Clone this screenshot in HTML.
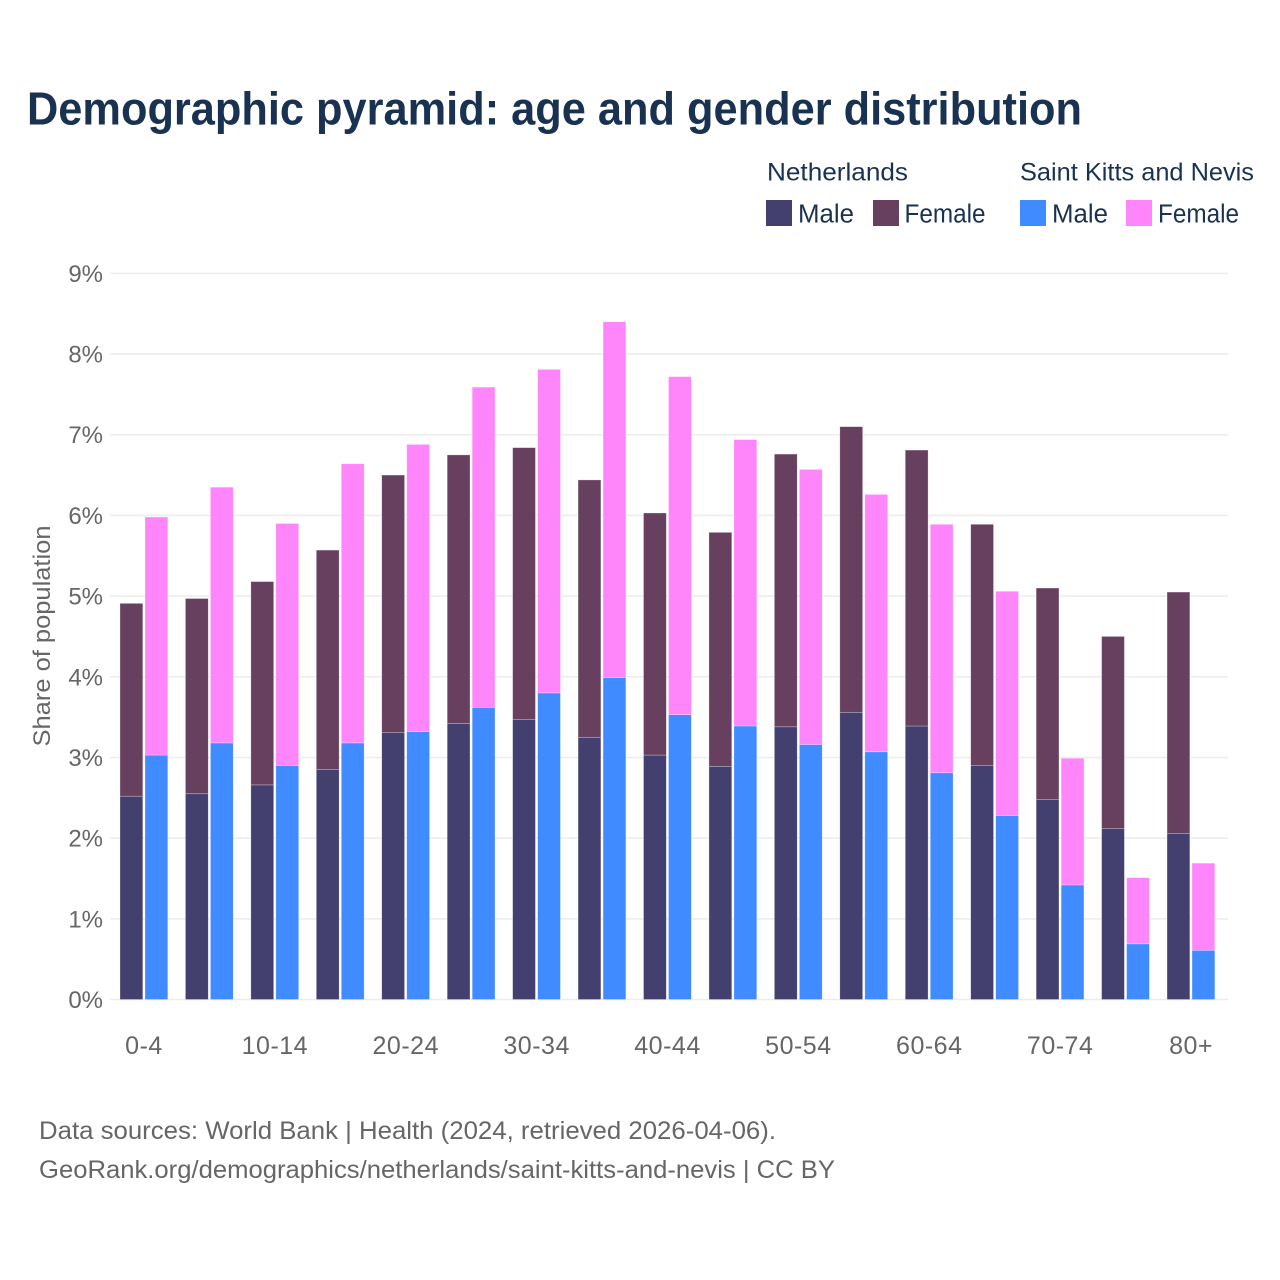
<!DOCTYPE html>
<html lang="en">
<head>
<meta charset="utf-8">
<title>Demographic pyramid: age and gender distribution</title>
<style>
html,body{margin:0;padding:0;background:#fff;width:1280px;height:1280px;overflow:hidden}
svg{display:block}
text{font-family:"Liberation Sans",sans-serif}
</style>
</head>
<body>
<svg id="chart" width="1280" height="1280" viewBox="0 0 1280 1280" xmlns="http://www.w3.org/2000/svg">
  <rect width="1280" height="1280" fill="#ffffff"/>
  <text x="27" y="124.5" font-size="46.5" font-weight="700" fill="#1a3251" textLength="1055" lengthAdjust="spacingAndGlyphs">Demographic pyramid: age and gender distribution</text>

  <g>
    <text x="767" y="180.5" font-size="25" fill="#1a3251" textLength="141" lengthAdjust="spacingAndGlyphs">Netherlands</text>
    <text x="1020" y="180.5" font-size="25" fill="#1a3251" textLength="234" lengthAdjust="spacingAndGlyphs">Saint Kitts and Nevis</text>
    <rect x="766" y="200" width="26" height="26" fill="#433f6f"/>
    <text x="798" y="222.5" font-size="25.5" fill="#1a3251" textLength="56" lengthAdjust="spacingAndGlyphs">Male</text>
    <rect x="873" y="200" width="26" height="26" fill="#67405f"/>
    <text x="904.5" y="222.5" font-size="25.5" fill="#1a3251" textLength="81" lengthAdjust="spacingAndGlyphs">Female</text>
    <rect x="1020" y="200" width="26" height="26" fill="#3f8bff"/>
    <text x="1052" y="222.5" font-size="25.5" fill="#1a3251" textLength="56" lengthAdjust="spacingAndGlyphs">Male</text>
    <rect x="1126" y="200" width="26" height="26" fill="#ff85fa"/>
    <text x="1158" y="222.5" font-size="25.5" fill="#1a3251" textLength="81" lengthAdjust="spacingAndGlyphs">Female</text>
  </g>

  <g id="grid"></g>
  <g id="yticks"></g>
  <g id="bars"></g>
  <g id="xticks"></g>

  <text transform="translate(50,636) rotate(-90)" text-anchor="middle" font-size="24" fill="#666666" textLength="221" lengthAdjust="spacingAndGlyphs">Share of population</text>

  <text x="39" y="1139" font-size="25" fill="#666666" textLength="737" lengthAdjust="spacingAndGlyphs">Data sources: World Bank | Health (2024, retrieved 2026-04-06).</text>
  <text x="39" y="1178" font-size="25" fill="#666666" textLength="796" lengthAdjust="spacingAndGlyphs">GeoRank.org/demographics/netherlands/saint-kitts-and-nevis | CC BY</text>
</svg>
<script>
const categories = ["0-4","5-9","10-14","15-19","20-24","25-29","30-34","35-39","40-44","45-49","50-54","55-59","60-64","65-69","70-74","75-79","80+"];
const tickLabels = ["0-4","10-14","20-24","30-34","40-44","50-54","60-64","70-74","80+"];
const yTicks = [0,1,2,3,4,5,6,7,8,9];
const netherlandsMale = [2.52,2.55,2.66,2.85,3.31,3.42,3.47,3.25,3.03,2.89,3.38,3.56,3.39,2.90,2.48,2.12,2.06];
const netherlandsFemale = [2.39,2.42,2.52,2.72,3.19,3.33,3.37,3.19,3.00,2.90,3.38,3.54,3.42,2.99,2.62,2.38,2.99];
const saintKittsMale = [3.03,3.18,2.90,3.18,3.32,3.62,3.80,3.99,3.53,3.39,3.16,3.07,2.81,2.28,1.42,0.69,0.61];
const saintKittsFemale = [2.95,3.17,3.00,3.46,3.56,3.97,4.01,4.41,4.19,3.55,3.41,3.19,3.08,2.78,1.57,0.82,1.08];

const SVGNS = "http://www.w3.org/2000/svg";
const plotLeft = 110, plotRight = 1228;
const firstBarX = 120, groupStep = 65.44, barW = 22.8, barGap = 25;
const yScale = v => 999.5 - v * 80.68;
const xScale = i => firstBarX + i * groupStep;

function el(tag, attrs, parent){
  const e = document.createElementNS(SVGNS, tag);
  for (const k in attrs) e.setAttribute(k, attrs[k]);
  parent.appendChild(e);
  return e;
}

const grid = document.getElementById('grid');
const yticks = document.getElementById('yticks');
yTicks.forEach(t => {
  const line = el('line', {x1:plotLeft, x2:plotRight, y1:yScale(t), y2:yScale(t), stroke:'#ececec', 'stroke-width':1.5}, grid);
  
  
  const lab = el('text', {x:103, y:yScale(t)+8.5, 'text-anchor':'end', 'font-size':24, fill:'#666666'}, yticks);
  
  
  lab.textContent = t + '%';
});

const bars = document.getElementById('bars');
function drawSeg(x, bottomV, val, fill, name){
  const y0 = yScale(bottomV), y1 = yScale(bottomV + val);
  const r = el('rect', {x:x, y:y1, width:barW, height:y0-y1, fill:fill, stroke:'#ffffff', 'stroke-opacity':0.45, 'stroke-width':0.6}, bars);
  
  
}
categories.forEach((c, i) => {
  const x = xScale(i);
  drawSeg(x, 0, netherlandsMale[i], '#433f6f', 'bar-netherlands-male-' + c);
  drawSeg(x, netherlandsMale[i], netherlandsFemale[i], '#67405f', 'bar-netherlands-female-' + c);
  drawSeg(x + barGap, 0, saintKittsMale[i], '#3f8bff', 'bar-saint-kitts-male-' + c);
  drawSeg(x + barGap, saintKittsMale[i], saintKittsFemale[i], '#ff85fa', 'bar-saint-kitts-female-' + c);
});

const xticks = document.getElementById('xticks');
tickLabels.forEach(label => {
  const i = categories.indexOf(label);
  const t = el('text', {x:xScale(i) + 24, y:1054, 'text-anchor':'middle', 'font-size':25, 'letter-spacing':0.5, fill:'#666666'}, xticks);
  
  
  t.textContent = label;
});
</script>
</body>
</html>
